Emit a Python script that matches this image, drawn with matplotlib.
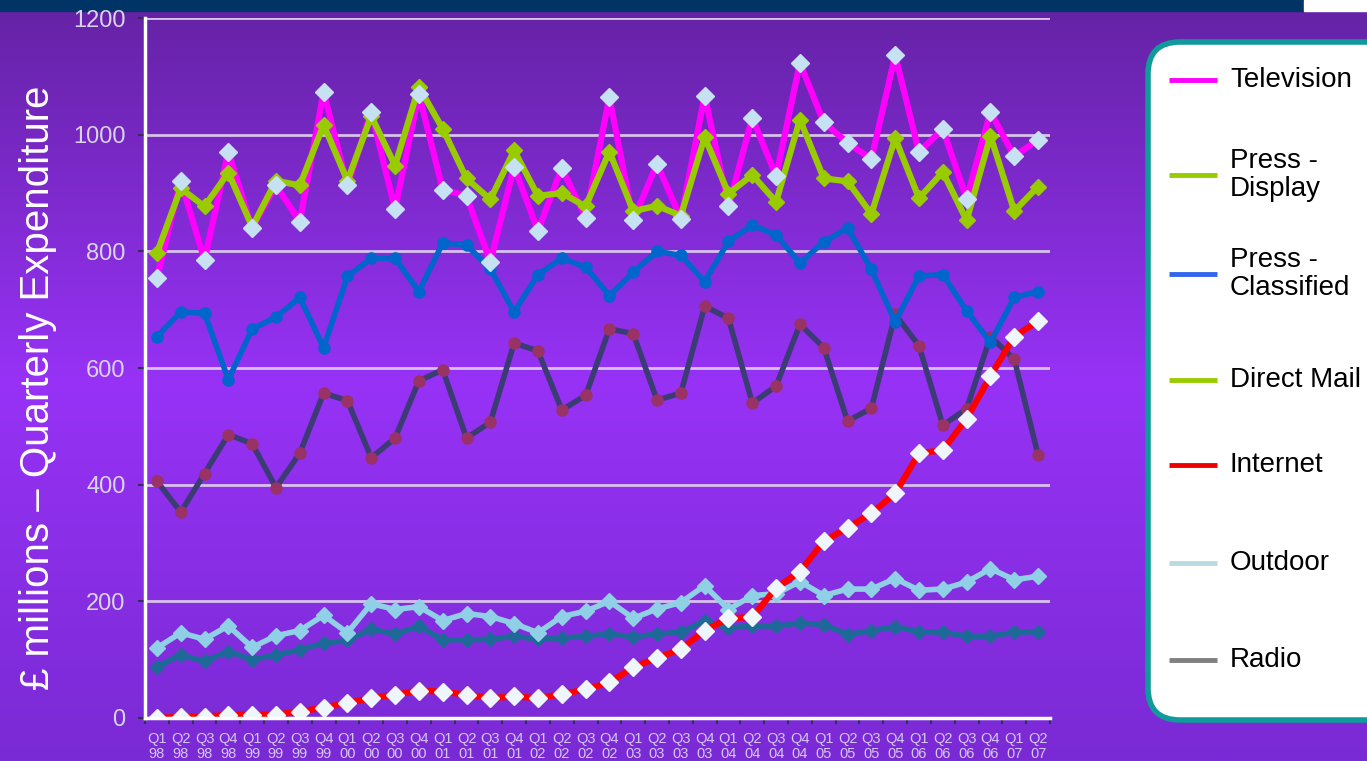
import numpy as np
import matplotlib
matplotlib.use("Agg")
import matplotlib.pyplot as plt
from matplotlib.colors import LinearSegmentedColormap
from matplotlib.patches import FancyBboxPatch, Rectangle

plt.rcParams['font.family'] = ['Liberation Sans', 'DejaVu Sans']

# quarters Q1 98 .. Q2 07
years = ['98', '99', '00', '01', '02', '03', '04', '05', '06', '07']
quarters = [f'Q{q}\n{y}' for y in years for q in range(1, 5)][:38]

television = [754, 921, 785, 971, 840, 913, 851, 1073, 913, 1039, 872, 1070, 906,
              895, 782, 945, 835, 943, 858, 1064, 853, 950, 856, 1067, 877, 1029,
              929, 1123, 1021, 986, 958, 1136, 970, 1010, 890, 1039, 963, 991]
press_display = [797, 908, 877, 935, 842, 921, 913, 1017, 921, 1032, 947, 1082, 1010,
                 925, 889, 973, 895, 900, 877, 971, 869, 878, 861, 996, 899, 931,
                 885, 1026, 925, 920, 864, 994, 891, 936, 853, 998, 869, 911]
press_classified = [654, 696, 694, 580, 667, 687, 721, 635, 757, 788, 788, 731, 814,
                    811, 770, 696, 760, 788, 773, 724, 764, 800, 793, 748, 817, 845,
                    828, 780, 816, 840, 769, 679, 758, 760, 698, 644, 721, 731]
direct_mail = [406, 353, 419, 486, 470, 395, 454, 557, 544, 446, 480, 578, 597,
               480, 507, 643, 629, 528, 553, 667, 659, 545, 557, 706, 685, 540,
               569, 675, 635, 509, 531, 692, 638, 502, 530, 654, 615, 451]
internet = [0, 2, 2, 6, 6, 6, 11, 18, 26, 34, 40, 47, 45, 40, 34, 37, 34, 41, 49,
            61, 87, 103, 118, 150, 171, 173, 223, 251, 303, 326, 351, 385, 454,
            459, 513, 586, 654, 680]
outdoor = [120, 146, 135, 158, 121, 141, 150, 176, 146, 196, 186, 191, 167, 179,
           174, 162, 146, 174, 183, 200, 171, 187, 198, 227, 186, 210, 213, 234,
           210, 221, 221, 239, 219, 221, 233, 256, 237, 243]
radio = [88, 108, 97, 114, 100, 108, 117, 128, 133, 152, 144, 157, 134, 134, 135,
         140, 135, 137, 140, 144, 139, 144, 147, 166, 154, 158, 157, 163, 160, 143,
         150, 156, 148, 147, 140, 140, 147, 148]

legend_labels = ['Television', 'Press -\nDisplay', 'Press -\nClassified',
                 'Direct Mail', 'Internet', 'Outdoor', 'Radio']
legend_colors = ['#ff00ff', '#99cc00', '#3366ee', '#99cc00', '#ee0000', '#b8dce0', '#808080']
legend_y = [80, 175, 274, 380, 465, 563, 660]

W, H = 1367, 761
fig = plt.figure(figsize=(W / 100, H / 100), dpi=100)

# slide background
bg = fig.add_axes([0, 0, 1, 1], zorder=0)
bg.set_xlim(0, W)
bg.set_ylim(H, 0)
bg.axis('off')
cmap = LinearSegmentedColormap.from_list('slide', [(0, '#6422a4'), (0.5, '#9732f6'), (1, '#7a2ad4')])
grad = np.linspace(0, 1, 256).reshape(-1, 1)
bg.imshow(grad, cmap=cmap, aspect='auto', extent=[0, W, H, 0], zorder=0)
bg.add_patch(Rectangle((0, 0), 1304, 11, color='#003366', zorder=1))
bg.add_patch(Rectangle((1304, 0), W - 1304, 11, color='white', zorder=1))

# legend box
bg.add_patch(FancyBboxPatch((1148, 42), 260, 678, boxstyle='round,pad=0,rounding_size=32',
                            facecolor='white', edgecolor='#109a9a', linewidth=4, zorder=2))
for lab, col, yy in zip(legend_labels, legend_colors, legend_y):
    bg.plot([1169, 1217], [yy, yy], color=col, lw=3.5, solid_capstyle='butt', zorder=3)
    bg.text(1230, yy, lab, fontsize=20, va='center', ha='left', color='black',
            linespacing=1.1, zorder=3)

# chart
ax = fig.add_axes([145 / W, 1 - 718 / H, (1050 - 145) / W, 700 / H], zorder=1)
ax.patch.set_alpha(0)
x = np.arange(len(quarters))

ax.plot(x, radio, color='#1d6a98', lw=4, marker='D', ms=7, zorder=3)
ax.plot(x, outdoor, color='#8fd0e6', lw=4, marker='D', ms=8, zorder=3)
ax.plot(x, direct_mail, color='#3c3c74', lw=4, marker='o', ms=8,
        markerfacecolor='#993366', markeredgecolor='#993366', zorder=3)
ax.plot(x, press_classified, color='#0066cc', lw=4, marker='o', ms=8, zorder=3)
ax.plot(x, television, color='#ff00ff', lw=4.5, zorder=4)
ax.plot(x, press_display, color='#99cc00', lw=4.5, marker='D', ms=8, zorder=5)
ax.plot(x, television, lw=0, marker='D', ms=9, color='#c6e2f2', zorder=6)
ax.plot(x, internet, color='#ff0000', lw=4.5, marker='D', ms=9,
        markerfacecolor='#eef6fb', markeredgecolor='#eef6fb', zorder=7)

ax.set_xlim(-0.5, len(quarters) - 0.5)
ax.set_ylim(0, 1200)
ax.set_yticks(range(0, 1201, 200))
ax.set_xticks(x)
ax.set_xticklabels(quarters, fontsize=10.5, color='#d4c8f2', linespacing=1.1)
ax.set_xticks(np.arange(-0.5, len(quarters), 1), minor=True)
ax.tick_params(axis='x', which='major', length=0, pad=10)
ax.tick_params(axis='x', which='minor', length=4, width=1.5, color='#303050')
ax.tick_params(axis='y', length=5, width=1.5, color='#303050', labelsize=17,
               labelcolor='#d8d4e8', pad=9)
ax.grid(axis='y', color='#d8c2ea', lw=2)
ax.set_axisbelow(True)
for s in ['top', 'right']:
    ax.spines[s].set_visible(False)
for s in ['left', 'bottom']:
    ax.spines[s].set_color('white')
    ax.spines[s].set_linewidth(2.5)
    ax.spines[s].set_zorder(8)

fig.text(38 / W, 1 - 388 / H, '£ millions – Quarterly Expenditure', rotation=90,
         fontsize=29, color='white', ha='center', va='center')

fig.savefig('out.png', dpi=100)
